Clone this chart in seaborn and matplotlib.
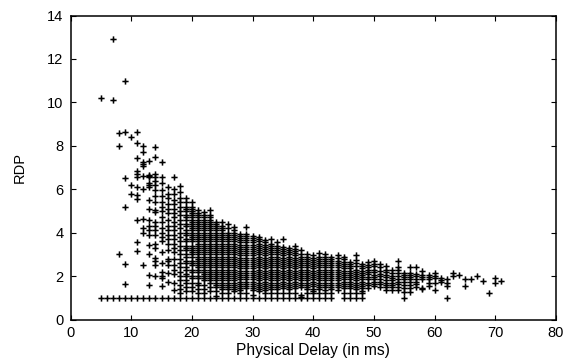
import pandas as pd
import matplotlib.pyplot as plt
import seaborn as sns

# RDP samples per physical delay (ms)
rdp_05 = [10.2, 1]
rdp_06 = [1]
rdp_07 = [12.9, 10.1, 1]
rdp_08 = [8.6, 8.0, 3.0, 1]
rdp_09 = [11.0, 8.65, 6.5, 5.2, 2.55, 1.65, 1]
rdp_10 = [8.4, 6.2, 5.8, 1]
rdp_11 = [8.65, 8.15, 7.45, 6.85, 6.7, 6.55, 6.1, 5.75, 5.55, 4.6, 3.55, 3.15, 1]
rdp_12 = [8.0, 7.7, 7.25, 7.15, 7.05, 6.6, 6.0, 4.65, 4.2, 4.0, 2.5, 1]
rdp_13 = [7.3, 6.65, 6.6, 6.55, 6.3, 6.2, 6.1, 5.5, 5.1, 4.6, 4.3, 4.1, 3.9, 3.45, 3.0, 2.05, 1.6, 1]
rdp_14 = [7.95, 7.5, 6.7, 6.55, 6.4, 6.2, 5.95, 5.7, 5.4, 5.05, 4.95, 4.5, 4.3, 4.1, 3.9, 3.5, 3.3, 2.85, 2.7, 2.5, 2.0, 1]
rdp_15 = [7.25, 6.55, 6.3, 5.95, 5.7, 5.4, 5.2, 5.0, 4.7, 4.5, 4.2, 4.0, 3.8, 3.6, 3.1, 2.6, 2.2, 2.0, 1.9, 1.55, 1]
rdp_16 = [6.1, 5.8, 5.6, 5.3, 5.1, 4.9, 4.6, 4.3, 4.1, 3.9, 3.7, 3.5, 3.2, 2.8, 2.7, 2.5, 2.15, 1.75, 1]
rdp_17 = [6.55, 6.0, 5.8, 5.5, 5.3, 5.1, 4.9, 4.7, 4.5, 4.3, 4.1, 3.9, 3.7, 3.5, 3.3, 3.1, 2.8, 2.5, 2.3, 2.1, 1.7, 1.35, 1]
rdp_18 = [6.15, 5.85, 5.6, 5.4, 5.2, 5.0, 4.8, 4.6, 4.4, 4.2, 4.0, 3.8, 3.6, 3.4, 3.2, 3.0, 2.8, 2.6, 2.4, 2.2, 2.0, 1.8, 1.6, 1.4, 1.2, 1]
rdp_19 = [5.6, 5.4, 5.2, 5.1, 5.0, 4.8, 4.7, 4.6, 4.4, 4.3, 4.1, 4.0, 3.9, 3.7, 3.6, 3.4, 3.3, 3.2, 3.0, 2.9, 2.7, 2.6, 2.4, 2.3, 2.1, 2.0, 1.8, 1.7, 1.5, 1.3, 1]
rdp_20 = [5.4, 5.2, 5.1, 5.0, 4.9, 4.8, 4.7, 4.6, 4.5, 4.4, 4.3, 4.2, 4.1, 4.0, 3.9, 3.8, 3.7, 3.6, 3.4, 3.3, 3.2, 3.1, 3.0, 2.9, 2.7, 2.6, 2.5, 2.3, 2.2, 2.0, 1.9, 1.7, 1.5, 1.3, 1]
rdp_21 = [5.05, 4.9, 4.8, 4.7, 4.6, 4.5, 4.4, 4.3, 4.2, 4.1, 4.0, 3.9, 3.8, 3.7, 3.6, 3.5, 3.4, 3.3, 3.2, 3.1, 3.0, 2.9, 2.8, 2.7, 2.6, 2.5, 2.4, 2.3, 2.2, 2.0, 1.9, 1.7, 1.6, 1.4, 1.2, 1]
rdp_22 = [4.95, 4.8, 4.7, 4.6, 4.5, 4.4, 4.3, 4.2, 4.1, 4.0, 3.9, 3.8, 3.7, 3.6, 3.5, 3.4, 3.3, 3.2, 3.1, 3.0, 2.9, 2.8, 2.7, 2.6, 2.5, 2.4, 2.3, 2.2, 2.1, 2.0, 1.9, 1.8, 1.6, 1.4, 1.2, 1]
rdp_23 = [5.05, 4.8, 4.7, 4.6, 4.5, 4.4, 4.3, 4.2, 4.1, 4.0, 3.9, 3.8, 3.7, 3.6, 3.5, 3.4, 3.3, 3.2, 3.1, 3.0, 2.9, 2.8, 2.7, 2.6, 2.5, 2.4, 2.3, 2.2, 2.1, 2.0, 1.9, 1.8, 1.7, 1.5, 1.3, 1]
rdp_24 = [4.5, 4.4, 4.3, 4.2, 4.1, 4.0, 3.9, 3.8, 3.7, 3.6, 3.5, 3.4, 3.3, 3.2, 3.1, 3.0, 2.9, 2.8, 2.7, 2.6, 2.5, 2.4, 2.3, 2.2, 2.1, 2.0, 1.9, 1.8, 1.7, 1.6, 1.5, 1.3, 1.1, 1]
rdp_25 = [4.5, 4.3, 4.2, 4.1, 4.0, 3.9, 3.8, 3.7, 3.6, 3.5, 3.4, 3.3, 3.2, 3.1, 3.0, 2.9, 2.8, 2.7, 2.6, 2.5, 2.4, 2.3, 2.2, 2.1, 2.0, 1.9, 1.8, 1.7, 1.6, 1.5, 1.4, 1.2, 1]
rdp_26 = [4.4, 4.2, 4.0, 3.9, 3.8, 3.7, 3.6, 3.5, 3.4, 3.3, 3.2, 3.1, 3.0, 2.9, 2.8, 2.7, 2.6, 2.5, 2.4, 2.3, 2.2, 2.1, 2.0, 1.9, 1.8, 1.7, 1.6, 1.5, 1.4, 1.2, 1]
rdp_27 = [4.25, 4.1, 4.0, 3.9, 3.8, 3.7, 3.6, 3.5, 3.4, 3.3, 3.2, 3.1, 3.0, 2.9, 2.8, 2.7, 2.6, 2.5, 2.4, 2.3, 2.2, 2.1, 2.0, 1.9, 1.8, 1.7, 1.6, 1.5, 1.4, 1.3, 1]
rdp_28 = [3.95, 3.85, 3.75, 3.65, 3.55, 3.45, 3.35, 3.25, 3.15, 3.05, 2.95, 2.85, 2.75, 2.65, 2.55, 2.45, 2.35, 2.25, 2.15, 2.05, 1.95, 1.85, 1.75, 1.65, 1.55, 1.45, 1.35, 1.2, 1]
rdp_29 = [4.25, 3.95, 3.85, 3.75, 3.65, 3.55, 3.45, 3.35, 3.25, 3.15, 3.05, 2.95, 2.85, 2.75, 2.65, 2.55, 2.45, 2.35, 2.25, 2.15, 2.05, 1.95, 1.85, 1.75, 1.65, 1.55, 1.45, 1.2, 1]
rdp_30 = [3.85, 3.75, 3.65, 3.55, 3.45, 3.35, 3.25, 3.15, 3.05, 2.95, 2.85, 2.75, 2.65, 2.55, 2.45, 2.35, 2.25, 2.15, 2.05, 1.95, 1.85, 1.75, 1.65, 1.55, 1.45, 1.35, 1.15, 1]
rdp_31 = [3.8, 3.7, 3.6, 3.5, 3.4, 3.3, 3.2, 3.1, 3.0, 2.9, 2.8, 2.7, 2.6, 2.5, 2.4, 2.3, 2.2, 2.1, 2.0, 1.9, 1.8, 1.7, 1.6, 1.5, 1.4, 1.3, 1]
rdp_32 = [3.65, 3.55, 3.45, 3.35, 3.25, 3.15, 3.05, 2.95, 2.85, 2.75, 2.65, 2.55, 2.45, 2.35, 2.25, 2.15, 2.05, 1.95, 1.85, 1.75, 1.65, 1.55, 1.45, 1.35, 1.2, 1]
rdp_33 = [3.7, 3.5, 3.4, 3.3, 3.2, 3.1, 3.0, 2.9, 2.8, 2.7, 2.6, 2.5, 2.4, 2.3, 2.2, 2.1, 2.0, 1.9, 1.8, 1.7, 1.6, 1.5, 1.4, 1.2, 1]
rdp_34 = [3.55, 3.4, 3.3, 3.2, 3.1, 3.0, 2.9, 2.8, 2.7, 2.6, 2.5, 2.4, 2.3, 2.2, 2.1, 2.0, 1.9, 1.8, 1.7, 1.6, 1.5, 1.4, 1.2, 1]
rdp_35 = [3.7, 3.35, 3.25, 3.15, 3.05, 2.95, 2.85, 2.75, 2.65, 2.55, 2.45, 2.35, 2.25, 2.15, 2.05, 1.95, 1.85, 1.75, 1.65, 1.55, 1.45, 1.2, 1]
rdp_36 = [3.3, 3.2, 3.1, 3.0, 2.9, 2.8, 2.7, 2.6, 2.5, 2.4, 2.3, 2.2, 2.1, 2.0, 1.9, 1.8, 1.7, 1.6, 1.5, 1.4, 1.2, 1]
rdp_37 = [3.4, 3.25, 3.15, 3.05, 2.95, 2.85, 2.75, 2.65, 2.55, 2.45, 2.35, 2.25, 2.15, 2.05, 1.95, 1.85, 1.75, 1.65, 1.55, 1.45, 1.2, 1]
rdp_38 = [3.2, 3.0, 2.9, 2.8, 2.7, 2.6, 2.5, 2.4, 2.3, 2.2, 2.1, 2.0, 1.9, 1.8, 1.7, 1.6, 1.5, 1.15, 1.05, 1]
rdp_39 = [3.0, 2.9, 2.8, 2.7, 2.6, 2.5, 2.4, 2.3, 2.2, 2.1, 2.0, 1.9, 1.8, 1.7, 1.6, 1.5, 1.4, 1.2, 1]
rdp_40 = [2.95, 2.85, 2.75, 2.65, 2.55, 2.45, 2.35, 2.25, 2.15, 2.05, 1.95, 1.85, 1.75, 1.65, 1.55, 1.4, 1.3, 1.2, 1]
rdp_41 = [3.05, 2.9, 2.8, 2.7, 2.6, 2.5, 2.4, 2.3, 2.2, 2.1, 2.0, 1.9, 1.8, 1.7, 1.6, 1.5, 1.4, 1.2, 1]
rdp_42 = [3.0, 2.9, 2.8, 2.7, 2.6, 2.5, 2.4, 2.3, 2.2, 2.1, 2.0, 1.9, 1.8, 1.7, 1.6, 1.5, 1.35, 1.2, 1]
rdp_43 = [2.9, 2.8, 2.7, 2.6, 2.5, 2.4, 2.3, 2.2, 2.1, 2.0, 1.9, 1.8, 1.7, 1.6, 1.5, 1.4, 1.2, 1]
rdp_44 = [2.95, 2.85, 2.7, 2.6, 2.5, 2.4, 2.3, 2.2, 2.1, 2.0, 1.9, 1.8, 1.7, 1.6, 1.5, 1.35]
rdp_45 = [2.9, 2.8, 2.65, 2.55, 2.45, 2.35, 2.25, 2.15, 2.05, 1.95, 1.85, 1.75, 1.65, 1.55, 1.45, 1.2, 1]
rdp_46 = [2.65, 2.55, 2.45, 2.35, 2.25, 2.15, 2.05, 1.95, 1.85, 1.75, 1.65, 1.55, 1.45, 1.2, 1]
rdp_47 = [2.95, 2.75, 2.6, 2.45, 2.3, 2.2, 2.1, 2.0, 1.9, 1.8, 1.7, 1.6, 1.5, 1.4, 1.2, 1]
rdp_48 = [2.55, 2.45, 2.35, 2.25, 2.15, 2.05, 1.95, 1.85, 1.75, 1.65, 1.55, 1.45, 1.3, 1.2, 1]
rdp_49 = [2.65, 2.5, 2.4, 2.3, 2.2, 2.1, 1.95, 1.85, 1.7, 1.6, 1.47]
rdp_50 = [2.7, 2.55, 2.45, 2.3, 2.2, 2.05, 1.95, 1.85, 1.75, 1.65, 1.55]
rdp_51 = [2.55, 2.4, 2.25, 2.1, 2.0, 1.85, 1.75, 1.65, 1.5]
rdp_52 = [2.45, 2.3, 2.2, 2.05, 1.95, 1.8, 1.7, 1.6, 1.5, 1.35]
rdp_53 = [2.3, 2.15, 2.0, 1.9, 1.8, 1.7, 1.6, 1.5, 1.35]
rdp_54 = [2.7, 2.4, 2.3, 2.15, 2.0, 1.85, 1.75, 1.65, 1.5, 1.35]
rdp_55 = [2.15, 2.05, 1.95, 1.85, 1.75, 1.6, 1.45, 1.25, 1]
rdp_56 = [2.4, 2.15, 2.05, 1.95, 1.85, 1.75, 1.6, 1.45, 1.25]
rdp_57 = [2.4, 2.1, 2.0, 1.85, 1.75, 1.65, 1.5]
rdp_58 = [2.25, 2.05, 1.95, 1.85, 1.4, 1.45]
rdp_59 = [2.05, 1.95, 1.85, 1.7, 1.55]
rdp_60 = [2.15, 2.0, 1.9, 1.7, 1.35]
rdp_61 = [1.9, 1.82, 1.75]
rdp_62 = [1.87, 1.7, 1.52, 1]
rdp_63 = [2.15, 2.0]
rdp_64 = [2.05]
rdp_65 = [1.87, 1.52]
rdp_66 = [1.85]
rdp_67 = [2.0]
rdp_68 = [1.78]
rdp_69 = [1.23]
rdp_70 = [1.92, 1.66]
rdp_71 = [1.77]

delay_rdp = {5: rdp_05, 6: rdp_06, 7: rdp_07, 8: rdp_08, 9: rdp_09, 10: rdp_10, 11: rdp_11, 12: rdp_12,
             13: rdp_13, 14: rdp_14, 15: rdp_15, 16: rdp_16, 17: rdp_17, 18: rdp_18, 19: rdp_19, 20: rdp_20,
             21: rdp_21, 22: rdp_22, 23: rdp_23, 24: rdp_24, 25: rdp_25, 26: rdp_26, 27: rdp_27, 28: rdp_28,
             29: rdp_29, 30: rdp_30, 31: rdp_31, 32: rdp_32, 33: rdp_33, 34: rdp_34, 35: rdp_35, 36: rdp_36,
             37: rdp_37, 38: rdp_38, 39: rdp_39, 40: rdp_40, 41: rdp_41, 42: rdp_42, 43: rdp_43, 44: rdp_44,
             45: rdp_45, 46: rdp_46, 47: rdp_47, 48: rdp_48, 49: rdp_49, 50: rdp_50, 51: rdp_51, 52: rdp_52,
             53: rdp_53, 54: rdp_54, 55: rdp_55, 56: rdp_56, 57: rdp_57, 58: rdp_58, 59: rdp_59, 60: rdp_60,
             61: rdp_61, 62: rdp_62, 63: rdp_63, 64: rdp_64, 65: rdp_65, 66: rdp_66, 67: rdp_67, 68: rdp_68,
             69: rdp_69, 70: rdp_70, 71: rdp_71}

x_ticks = [0, 10, 20, 30, 40, 50, 60, 70, 80]
y_ticks = [0, 2, 4, 6, 8, 10, 12, 14]

rows = [(d, r) for d, vals in delay_rdp.items() for r in vals]
df = pd.DataFrame(rows, columns=['delay', 'rdp'])

sns.set_theme(style='ticks')
plt.rcParams['font.family'] = ['Liberation Sans', 'DejaVu Sans']

fig = plt.figure(figsize=(5.64, 3.58), dpi=100)
ax = fig.add_axes([70.5 / 564, 1 - 319.5 / 358, (556 - 70.5) / 564, (319.5 - 15.5) / 358])

sns.scatterplot(data=df, x='delay', y='rdp', marker='+', color='black', s=20, linewidth=1.1, snap=False, ax=ax, clip_on=False)

ax.set_xlim(0, 80)
ax.set_ylim(0, 14)
ax.set_xticks(x_ticks)
ax.set_yticks(y_ticks)
ax.tick_params(direction='in', top=True, right=True, length=3.5, width=0.8, labelsize=10.5, pad=5, colors='black')
for spine in ax.spines.values():
    spine.set_linewidth(1.1)
    spine.set_color('black')
ax.set_xlabel('Physical Delay (in ms)', fontsize=11.2, labelpad=1.5, color='black')
ax.set_ylabel('RDP', fontsize=10.5, labelpad=15, color='black')

plt.savefig('out.png', dpi=100)
plt.close()
